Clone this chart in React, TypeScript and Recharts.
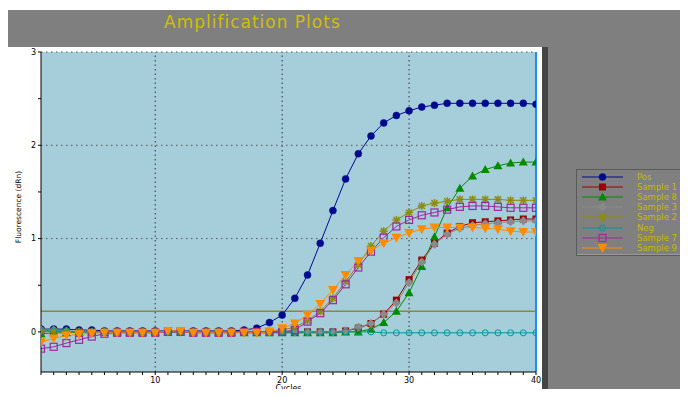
import React from 'react';
import { LineChart, Line, XAxis, YAxis, ReferenceLine, ReferenceArea, Legend } from 'recharts';

const cycles = [
  1, 2, 3, 4, 5, 6, 7, 8, 9, 10, 11, 12, 13, 14, 15, 16, 17, 18, 19, 20,
  21, 22, 23, 24, 25, 26, 27, 28, 29, 30, 31, 32, 33, 34, 35, 36, 37, 38, 39, 40,
];

const pos = [
  0.03, 0.03, 0.03, 0.02, 0.02, 0.01, 0.01, 0.01, 0.01, 0.01, 0.01, 0.01, 0.01, 0.01, 0.01, 0.01, 0.02, 0.04, 0.1, 0.18,
  0.36, 0.61, 0.95, 1.3, 1.64, 1.91, 2.1, 2.24, 2.32, 2.37, 2.41, 2.43, 2.45, 2.45, 2.45, 2.45, 2.45, 2.45, 2.45, 2.44,
];
const sample1 = [
  0.01, 0.01, 0.0, 0.0, 0.0, 0.0, 0.0, 0.0, 0.0, 0.0, 0.0, 0.0, 0.0, 0.0, 0.0, 0.0, 0.0, 0.0, 0.0, 0.0,
  0.0, 0.0, 0.0, 0.0, 0.01, 0.04, 0.09, 0.19, 0.34, 0.56, 0.77, 0.95, 1.06, 1.13, 1.17, 1.18, 1.19, 1.2, 1.21, 1.21,
];
const sample8 = [
  -0.02, -0.01, -0.01, 0.0, 0.0, 0.0, 0.0, 0.0, 0.0, 0.0, 0.0, 0.0, 0.0, 0.0, 0.0, 0.0, -0.01, -0.01, -0.01, -0.01,
  -0.01, -0.01, -0.01, -0.01, 0.0, 0.0, 0.03, 0.1, 0.22, 0.42, 0.7, 1.02, 1.33, 1.54, 1.67, 1.74, 1.78, 1.81, 1.82, 1.82,
];
const sample3 = [
  0.02, 0.02, 0.01, 0.0, 0.0, 0.0, 0.0, 0.0, 0.0, 0.0, 0.0, 0.0, 0.0, 0.0, 0.0, 0.0, 0.0, 0.0, 0.0, 0.0,
  0.0, 0.0, 0.0, 0.0, 0.01, 0.05, 0.09, 0.19, 0.31, 0.53, 0.75, 0.94, 1.05, 1.11, 1.14, 1.16, 1.17, 1.18, 1.19, 1.19,
];
const sample2 = [
  0.01, 0.0, 0.0, 0.0, 0.0, 0.0, 0.0, 0.0, 0.0, 0.0, 0.0, 0.0, 0.0, 0.0, 0.0, 0.0, 0.0, 0.0, 0.0, 0.02,
  0.05, 0.12, 0.22, 0.36, 0.54, 0.72, 0.92, 1.08, 1.2, 1.28, 1.35, 1.38, 1.4, 1.42, 1.42, 1.42, 1.42, 1.41, 1.41, 1.41,
];
const neg = [
  0.01, 0.01, 0.01, 0.0, 0.0, 0.0, 0.0, 0.0, 0.0, 0.0, 0.0, 0.0, 0.0, 0.0, 0.0, 0.0, 0.0, 0.0, 0.0, 0.0,
  0.0, 0.0, 0.0, 0.0, 0.0, 0.0, 0.0, -0.01, -0.01, -0.01, -0.01, -0.01, -0.01, -0.01, -0.01, -0.01, -0.01, -0.01, -0.01, -0.01,
];
const sample7 = [
  -0.18, -0.16, -0.12, -0.085, -0.05, -0.02, -0.01, -0.01, -0.01, -0.01, 0.0, 0.0, -0.01, -0.01, -0.01, -0.01, 0.0, 0.0, 0.0, 0.0,
  0.02, 0.11, 0.2, 0.34, 0.51, 0.69, 0.86, 1.01, 1.13, 1.2, 1.25, 1.28, 1.31, 1.34, 1.35, 1.35, 1.34, 1.33, 1.33, 1.33,
];
const sample9 = [
  -0.11, -0.07, -0.04, -0.025, -0.015, -0.01, -0.01, -0.01, -0.01, -0.01, 0.01, 0.01, -0.01, -0.01, -0.01, -0.01, -0.01, -0.01, 0.0, 0.04,
  0.09, 0.18, 0.3, 0.45, 0.61, 0.76, 0.87, 0.95, 1.01, 1.06, 1.1, 1.12, 1.12, 1.12, 1.12, 1.11, 1.1, 1.08, 1.07, 1.07,
];

const threshold = 0.22;
const xTicks = cycles;
const yTicks = [0, 0.5, 1, 1.5, 2, 2.5, 3];

const data = cycles.map((c, i) => ({
  cycle: c,
  pos: pos[i],
  s1: sample1[i],
  s8: sample8[i],
  s3: sample3[i],
  s2: sample2[i],
  neg: neg[i],
  s7: sample7[i],
  s9: sample9[i],
}));

type Shape = 'circle' | 'square' | 'triangle' | 'diamond' | 'star' | 'ocircle' | 'osquare' | 'itriangle';

const series: { key: string; name: string; color: string; shape: Shape }[] = [
  { key: 'pos', name: 'Pos', color: '#000a8c', shape: 'circle' },
  { key: 's1', name: 'Sample 1', color: '#990000', shape: 'square' },
  { key: 's8', name: 'Sample 8', color: '#008a00', shape: 'triangle' },
  { key: 's3', name: 'Sample 3', color: '#8a8a8a', shape: 'diamond' },
  { key: 's2', name: 'Sample 2', color: '#8c8c10', shape: 'star' },
  { key: 'neg', name: 'Neg', color: '#00979c', shape: 'ocircle' },
  { key: 's7', name: 'Sample 7', color: '#9c2a9c', shape: 'osquare' },
  { key: 's9', name: 'Sample 9', color: '#ff8c00', shape: 'itriangle' },
];

const Marker = ({ cx, cy, shape, color }: { cx?: number; cy?: number; shape: Shape; color: string }) => {
  if (cx == null || cy == null) return null;
  switch (shape) {
    case 'circle':
      return <circle cx={cx} cy={cy} r={3.5} fill={color} stroke={color} strokeWidth={0.5} />;
    case 'square':
      return <rect x={cx - 3.5} y={cy - 3.5} width={7} height={7} fill={color} />;
    case 'triangle':
      return <polygon points={`${cx},${cy - 4.5} ${cx + 4.5},${cy + 3.5} ${cx - 4.5},${cy + 3.5}`} fill={color} />;
    case 'diamond':
      return <polygon points={`${cx},${cy - 4.5} ${cx + 4.5},${cy} ${cx},${cy + 4.5} ${cx - 4.5},${cy}`} fill={color} />;
    case 'star':
      return (
        <g stroke={color} strokeWidth={1.5}>
          <line x1={cx - 4} y1={cy} x2={cx + 4} y2={cy} />
          <line x1={cx} y1={cy - 4} x2={cx} y2={cy + 4} />
          <line x1={cx - 3} y1={cy - 3} x2={cx + 3} y2={cy + 3} />
          <line x1={cx - 3} y1={cy + 3} x2={cx + 3} y2={cy - 3} />
        </g>
      );
    case 'ocircle':
      return <circle cx={cx} cy={cy} r={3} fill="none" stroke={color} strokeWidth={1} />;
    case 'osquare':
      return <rect x={cx - 3.5} y={cy - 3.5} width={7} height={7} fill="none" stroke={color} strokeWidth={1.2} />;
    case 'itriangle':
      return <polygon points={`${cx - 5},${cy - 4} ${cx + 5},${cy - 4} ${cx},${cy + 5}`} fill={color} />;
  }
  return null;
};

const font = '"DejaVu Sans", Verdana, sans-serif';
const legendText = '#c9b800';

const renderLegend = () => (
  <div
    style={{
      width: 112,
      height: 87,
      background: '#808080',
      border: '1px solid #5a5a5a',
      boxShadow: 'inset -1px -1px 0 #9a9a9a',
      paddingTop: 2,
      boxSizing: 'border-box',
    }}
  >
    {series.map((s) => (
      <div key={s.key} style={{ display: 'flex', alignItems: 'center', height: 10.1 }}>
        <svg width={60} height={10} style={{ display: 'block', flex: 'none' }}>
          <line x1={5} y1={5} x2={46} y2={5} stroke={s.color} strokeWidth={1.2} />
          <Marker cx={25.5} cy={5} shape={s.shape} color={s.color} />
        </svg>
        <span style={{ fontFamily: font, fontSize: 8.5, color: legendText, lineHeight: '10px', whiteSpace: 'nowrap' }}>
          {s.name}
        </span>
      </div>
    ))}
  </div>
);

const axisFont = { fontFamily: font, fontSize: 8, fill: '#000' };

export default function App() {
  return (
    <div style={{ position: 'relative', width: 688, height: 397, margin: -8, background: '#fff', overflow: 'hidden' }}>
      <div style={{ position: 'absolute', left: 8, top: 10, width: 680, height: 37, background: '#7f7f7f' }} />
      <div style={{ position: 'absolute', left: 548, top: 47, width: 140, height: 350, background: '#7f7f7f' }} />
      <div style={{ position: 'absolute', left: 542, top: 47, width: 6, height: 350, background: '#454545' }} />
      <div
        style={{
          position: 'absolute',
          left: 164,
          top: 14,
          fontFamily: font,
          fontSize: 17,
          letterSpacing: 1,
          lineHeight: '16px',
          whiteSpace: 'nowrap',
          color: '#d0bf00',
        }}
      >
        Amplification Plots
      </div>
      <div
        style={{
          position: 'absolute',
          left: 238.5,
          width: 100,
          top: 384,
          textAlign: 'center',
          fontFamily: font,
          fontSize: 8,
          lineHeight: '10px',
          color: '#000',
        }}
      >
        Cycles
      </div>
      <div style={{ position: 'absolute', left: 0, top: 0 }}>
        <LineChart width={688} height={397} data={data} margin={{ top: 52, right: 152, bottom: 0, left: 0 }}>
          <XAxis
            dataKey="cycle"
            type="number"
            domain={[1, 40]}
            ticks={xTicks}
            interval={0}
            tickSize={3}
            tick={axisFont}
            tickFormatter={(v: number) => (v % 10 === 0 ? String(v) : '')}
            axisLine={{ stroke: '#000' }}
            tickLine={{ stroke: '#000' }}
            height={25}
            allowDataOverflow
          />
          <YAxis
            type="number"
            domain={[-0.43, 3]}
            ticks={yTicks}
            interval={0}
            tickSize={3}
            width={41}
            tick={axisFont}
            tickFormatter={(v: number) => (Number.isInteger(v) ? String(v) : '')}
            axisLine={{ stroke: '#000' }}
            tickLine={{ stroke: '#000' }}
            allowDataOverflow
            label={{
              content: () => (
                <text
                  x={18}
                  y={207}
                  transform="rotate(-90 18 207)"
                  textAnchor="middle"
                  dominantBaseline="central"
                  fontFamily={font}
                  fontSize={7.5}
                  fill="#000"
                >
                  Fluorescence (dRn)
                </text>
              ),
            }}
          />
          <ReferenceArea x1={1} x2={40} y1={-0.43} y2={3} fill="#a6cdda" fillOpacity={1} stroke="none" />
          {[10, 20, 30].map((x) => (
            <ReferenceLine key={`vx${x}`} x={x} stroke="#333" strokeDasharray="1.5 3" />
          ))}
          {[1, 2, 3].map((y) => (
            <ReferenceLine key={`hy${y}`} y={y} stroke="#555" strokeDasharray="1.5 3.5" />
          ))}
          <ReferenceLine y={threshold} stroke="#8a8a30" strokeWidth={1.5} />
          <ReferenceLine x={40} stroke="#1a8cff" strokeWidth={2} />
          {series.map((s) => (
            <Line
              key={s.key}
              type="linear"
              dataKey={s.key}
              name={s.name}
              stroke={s.color}
              strokeWidth={1}
              isAnimationActive={false}
              dot={(p: any) => <Marker key={`${s.key}-${p.index}`} cx={p.cx} cy={p.cy} shape={s.shape} color={s.color} />}
              activeDot={false}
            />
          ))}
          <Legend
            layout="vertical"
            align="center"
            verticalAlign="middle"
            content={renderLegend}
            wrapperStyle={{ position: 'absolute', left: 576, top: 169, width: 112, height: 87 }}
          />
        </LineChart>
      </div>
    </div>
  );
}
